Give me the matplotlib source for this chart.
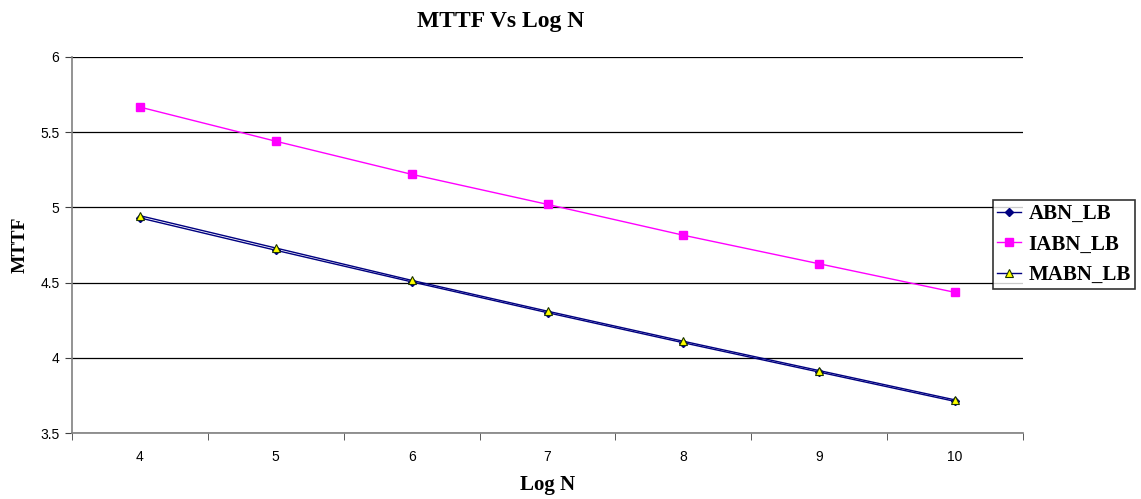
import numpy as np
import matplotlib
matplotlib.use("Agg")
import matplotlib.pyplot as plt

log_n = [4, 5, 6, 7, 8, 9, 10]
abn_lb = [4.93, 4.715, 4.505, 4.30, 4.10, 3.905, 3.71]
iabn_lb = [5.667, 5.44, 5.22, 5.02, 4.815, 4.625, 4.435]
mabn_lb = [4.945, 4.73, 4.515, 4.31, 4.11, 3.915, 3.72]
y_ticks = [3.5, 4, 4.5, 5, 5.5, 6]

fig = plt.figure(figsize=(11.41, 4.99), dpi=100)
ax = fig.add_axes([72 / 1141, 1 - 433 / 499, (1023 - 72) / 1141, (433 - 57) / 499])

ax.plot(log_n, abn_lb, color="#000080", lw=1, marker="D", ms=4,
        mfc="#000080", mec="#000080", label="ABN_LB", zorder=3)
ax.plot(log_n, iabn_lb, color="#FF00FF", lw=1, marker="s", ms=5.5,
        mfc="#FF00FF", mec="#FF00FF", label="IABN_LB", zorder=3)
ax.plot(log_n, mabn_lb, color="#000080", lw=1, marker="^", ms=6,
        mfc="#FFFF00", mec="#1a3300", mew=0.8, label="MABN_LB", zorder=4)

ax.set_xlim(3.5, 10.5)
ax.set_ylim(3.5, 6)
ax.set_yticks(y_ticks)
ax.set_yticklabels([f"{v:g}" for v in y_ticks], fontsize=10,
                   family="Liberation Sans")
ax.set_xticks(log_n)
ax.set_xticklabels([str(v) for v in log_n], fontsize=10,
                   family="Liberation Sans")
ax.set_xticks(np.arange(3.5, 10.6, 1), minor=True)
ax.tick_params(axis="x", which="major", length=0, pad=12)
ax.tick_params(axis="x", which="minor", length=5, direction="out", color="#404040")
ax.tick_params(axis="y", length=5, direction="out", color="#404040", pad=4)

ax.grid(axis="y", color="#000000", lw=0.9)
ax.set_axisbelow(True)
for s in ["top", "right"]:
    ax.spines[s].set_visible(False)
for s in ["left", "bottom"]:
    ax.spines[s].set_color("#808080")
    ax.spines[s].set_linewidth(1.2)

fig.text(501 / 1141, 1 - 22 / 499, "MTTF Vs Log N", ha="center", va="center",
         fontsize=17, fontweight="bold", family="Liberation Serif")
fig.text(548 / 1141, 1 - 485 / 499, "Log N", ha="center", va="center",
         fontsize=15, fontweight="bold", family="Liberation Serif")
fig.text(20 / 1141, 1 - 245 / 499, "MTTF", ha="center", va="center",
         rotation=90, fontsize=14, fontweight="bold", family="Liberation Serif")

leg = fig.legend(loc="upper left", bbox_to_anchor=(993 / 1141, 1 - 200 / 499),
                 prop={"family": "Liberation Serif", "weight": "bold", "size": 15},
                 frameon=True, fancybox=False, handlelength=1.15,
                 handletextpad=0.35, borderpad=0.2, labelspacing=0.5,
                 borderaxespad=0)
leg.get_frame().set_edgecolor("#000000")
leg.get_frame().set_linewidth(1.2)

fig.savefig("out.png", dpi=100)
